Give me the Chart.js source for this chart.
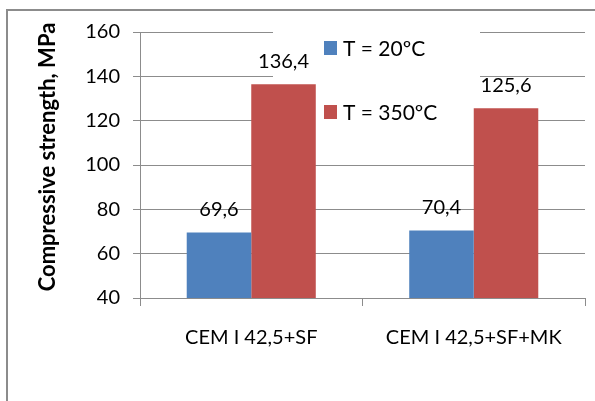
<!DOCTYPE html>
<html>
<head>
<meta charset="utf-8">
<script src="https://cdn.jsdelivr.net/npm/chart.js@4/dist/chart.umd.min.js"></script>
<style>
  html, body { margin: 0; padding: 0; background: #fff; }
  #wrap { position: relative; width: 595px; height: 401px; overflow: hidden; }
  #frame { position: absolute; left: 6px; top: 9px; width: 700px; height: 500px; border: 2px solid #8c8c8c; box-sizing: border-box; }
  canvas { position: absolute; left: 0; top: 0; }
</style>
</head>
<body>
<div id="wrap">
  <div id="frame"></div>
  <canvas id="c" width="595" height="401"></canvas>
</div>
<script>
const categories = ["CEM I 42,5+SF", "CEM I 42,5+SF+MK"];
const seriesNames = ["T = 20\u00BAC", "T = 350\u00BAC"];
const values20 = [69.6, 70.4];
const values350 = [136.4, 125.6];
const yTicks = [40, 60, 80, 100, 120, 140, 160];
const yTitle = "   Compressive strength, MPa";
const colors = ["#4F81BD", "#C0504D"];

const FONT = "Lato, 'Open Sans', sans-serif";

const fmt = v => v.toFixed(1).replace('.', ',');

const legendAndLabels = {
  id: 'legendAndLabels',
  beforeDatasetsDraw(chart) {
    const ctx = chart.ctx;
    const a = chart.chartArea;
    ctx.save();
    ctx.fillStyle = '#ffffff';
    ctx.fillRect(a.left + 133, a.top - 8, 207, 120);
    ctx.restore();
  },
  afterDatasetsDraw(chart) {
    const ctx = chart.ctx;
    const a = chart.chartArea;
    ctx.save();
    // data labels
    ctx.font = "20px " + FONT;
    ctx.fillStyle = '#000';
    ctx.textAlign = 'center';
    ctx.textBaseline = 'middle';
    chart.data.datasets.forEach((ds, di) => {
      const meta = chart.getDatasetMeta(di);
      meta.data.forEach((bar, i) => {
        ctx.fillText(fmt(ds.data[i]), bar.x, bar.y - 23);
      });
    });
    // legend
    ctx.textAlign = 'left';
    ctx.font = "21px " + FONT;
    chart.data.datasets.forEach((ds, di) => {
      const cy = a.top + 16 + di * 64;
      const x = a.left + 184;
      ctx.fillStyle = ds.backgroundColor;
      ctx.fillRect(x, cy - 7, 13, 14);
      ctx.fillStyle = '#000';
      ctx.fillText(ds.label, x + 19, cy + 1);
    });
    ctx.restore();
  }
};

new Chart(document.getElementById('c'), {
  type: 'bar',
  data: {
    labels: categories,
    datasets: [
      { label: seriesNames[0], data: values20, backgroundColor: colors[0] },
      { label: seriesNames[1], data: values350, backgroundColor: colors[1] }
    ]
  },
  options: {
    responsive: false,
    animation: false,
    devicePixelRatio: 1,
    layout: { padding: { left: 33, right: 10, top: 32, bottom: 0 } },
    plugins: { legend: { display: false }, tooltip: { enabled: false } },
    datasets: { bar: { categoryPercentage: 0.58, barPercentage: 1.0 } },
    scales: {
      x: {
        grid: { drawOnChartArea: false, drawTicks: true, tickLength: 8, color: '#8c8c8c', offset: true },
        border: { color: '#8c8c8c', width: 1 },
        ticks: { color: '#000', font: { family: FONT, size: 20 }, padding: 20 },
        afterFit(scale) { scale.height = 103; }
      },
      y: {
        min: 40, max: 160,
        afterBuildTicks(scale) { scale.ticks = yTicks.map(v => ({ value: v })); },
        grid: { color: '#8c8c8c', tickLength: 7 },
        border: { color: '#8c8c8c', width: 1 },
        ticks: { color: '#000', font: { family: FONT, size: 20 }, padding: 13 },
        title: { display: true, text: yTitle, color: '#000', font: { family: FONT, size: 22, weight: 'bold' }, padding: { top: 2, bottom: 0 } },
        afterFit(scale) { scale.width = 107; }
      }
    }
  },
  plugins: [legendAndLabels]
});
</script>
</body>
</html>
